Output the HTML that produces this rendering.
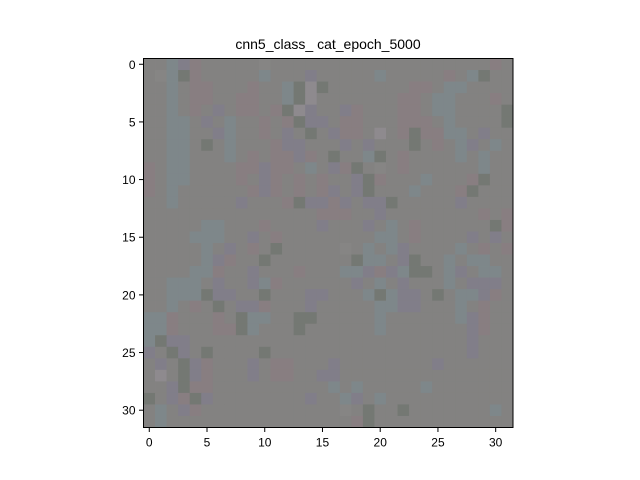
<!DOCTYPE html>
<html><head><meta charset="utf-8">
<style>
body{margin:0;background:#fff;}
svg{display:block;font-family:"Liberation Sans",sans-serif;}
</style></head>
<body>
<svg width="640" height="480">
<text x="328" y="49" text-anchor="middle" font-size="14">cnn5_class_ cat_epoch_5000</text>
<g id="cells"></g>
<g id="axes"></g>
</svg>
<script>
// palette codes for each pixel cell
const paletteKeys = ["g","b","p","d","l","v","h"];
const paletteColors = ["#838281","#7e878a","#887e81","#747873","#8e8a8e","#817e89","#868584"];
const rows = [
"ggbvpggggghgggggggggggggggggggpg",
"ghbdpgggggbgggvgggggbgggggpgbdgg",
"ggbgppgggpggbdldgggggggppgbbgggg",
"ggbgppggppggbdlgggggggppgbbgggpg",
"ggbgpgvgppgpdlvggvpgggppgbbggggd",
"ggbbgvgbggpgpdvvgppgggpppgbggggd",
"ggbbggvbggpgvgdgvppglgpdppbbgvgg",
"ggbbgdgbgggpvvgggvgvgggdgpgbvgbg",
"ggbbgggbgpgppvpgdggbdgpggggbgbgg",
"pgbbggggppvppgbgvpdghgpggggggbgg",
"pgbbggggpgvpgpgpggvdpgggbgggpdgg",
"pgbggggggpvpgpgpvgvdgggbgggpdggg",
"ggbgggggvgggpdvvpvgvvdgggggvgggg",
"gggggggggggggggpppggvggggggggpgp",
"gggggbbgggpggggvgggvgbgpggggggdp",
"ggggbbbggvgpggggggggbbgpggggvgvg",
"gggggbgvgpgdggggghgbgbvggggbgpgp",
"gggggbvpggdgggggggdbbgvdggbgbbgg",
"ggggbbpggvgggpgggbbvpvbddgbvgbbg",
"ggbbbgvggvbpggggggvgbgvgggbgvvvg",
"ggbbbdvvggdgggvvgggbdbvvgdgbbvpg",
"ggbgpgdgvvpgggvgggggbbvvgggbgpgg",
"bbpgggpgdbbggddgggggbggggggbvpgg",
"bbpgggppdbgggdggggggbgggggggvpgg",
"bdvvggggggggggggggggggggggggvggg",
"vgdvgdggggdgggggggggggggggggvggg",
"gvgdvpgggvgppgggvggggggggvgggggg",
"glgdvpgggvgppggvvgggggggggggggg",
"ggvdppggggggggggbgbgggggbggggggg",
"dgvpdvggggggggvggbvgbggggggggggg",
"gbgvpgggggggggggghgdggdgggggggbg",
"gbggggggggggggggggpdggggggggggggg"
];
const xTicks = [0,5,10,15,20,25,30];
const yTicks = [0,5,10,15,20,25,30];

const NS="http://www.w3.org/2000/svg";
const L=143.5,T=58.5,W=369.5,H=369;
const n=32, cw=W/n, ch=H/n;
function xPos(i){return L+(i+0.5)*cw;}
function yPos(i){return T+(i+0.5)*ch;}
const cells=document.getElementById('cells');
rows.forEach((row,r)=>{
  for(let c=0;c<n;c++){
    const k=row[c]||"g";
    const idx=Math.max(0,paletteKeys.indexOf(k));
    const rc=document.createElementNS(NS,'rect');
    rc.setAttribute('x',(xPos(c)-cw/2).toFixed(2));
    rc.setAttribute('y',(yPos(r)-ch/2).toFixed(2));
    rc.setAttribute('width',(cw+0.4).toFixed(2));
    rc.setAttribute('height',(ch+0.4).toFixed(2));
    rc.setAttribute('fill',paletteColors[idx]);
    
    
    cells.appendChild(rc);
  }
});
const axes=document.getElementById('axes');
const frame=document.createElementNS(NS,'rect');
frame.setAttribute('x',L);frame.setAttribute('y',T);frame.setAttribute('width',W);frame.setAttribute('height',H);
frame.setAttribute('fill','none');frame.setAttribute('stroke','#000');frame.setAttribute('stroke-width','1');


axes.appendChild(frame);
xTicks.forEach(t=>{
  const x=xPos(t);
  const ln=document.createElementNS(NS,'line');
  ln.setAttribute('x1',x);ln.setAttribute('x2',x);ln.setAttribute('y1',T+H);ln.setAttribute('y2',T+H+4.5);
  ln.setAttribute('stroke','#000');
  
  
  axes.appendChild(ln);
  const tx=document.createElementNS(NS,'text');
  tx.setAttribute('x',x);tx.setAttribute('y',T+H+19);tx.setAttribute('text-anchor','middle');tx.setAttribute('font-size','12');
  tx.textContent=t;
  
  
  axes.appendChild(tx);
});
yTicks.forEach(t=>{
  const y=yPos(t);
  const ln=document.createElementNS(NS,'line');
  ln.setAttribute('x1',L-4.5);ln.setAttribute('x2',L);ln.setAttribute('y1',y);ln.setAttribute('y2',y);
  ln.setAttribute('stroke','#000');
  
  
  axes.appendChild(ln);
  const tx=document.createElementNS(NS,'text');
  tx.setAttribute('x',L-8);tx.setAttribute('y',y+4.5);tx.setAttribute('text-anchor','end');tx.setAttribute('font-size','12');
  tx.textContent=t;
  
  
  axes.appendChild(tx);
});
</script>
</body></html>
